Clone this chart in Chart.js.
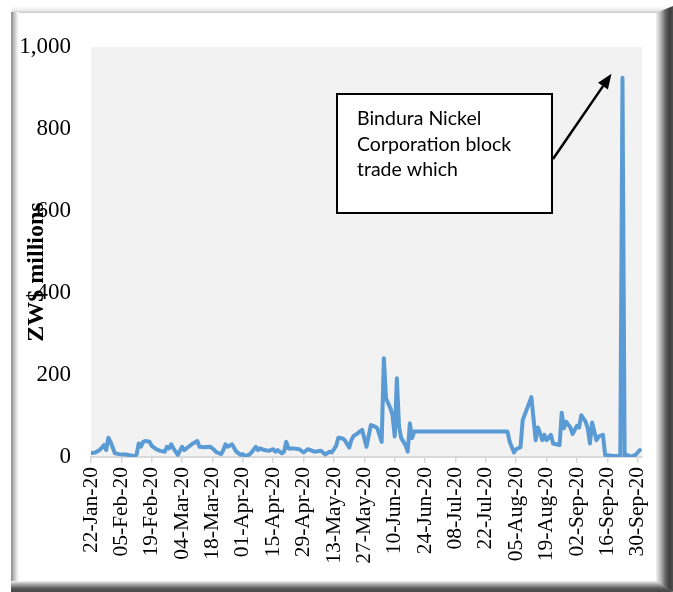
<!DOCTYPE html>
<html>
<head>
<meta charset="utf-8">
<script src="https://cdn.jsdelivr.net/npm/chart.js@4.4.1/dist/chart.umd.min.js"></script>
<style>
  html, body { margin: 0; padding: 0; background: #ffffff; }
  #wrap { width: 673px; height: 592px; position: relative; }
  canvas { display: block; }
</style>
</head>
<body>
<div id="wrap"><canvas id="turnoverChart" width="673" height="592"></canvas></div>
<script>
// Daily turnover on the exchange, ZW$ millions
const tradeDates = [
  '2020-01-22','2020-01-24','2020-01-26','2020-01-28','2020-01-29','2020-01-30','2020-01-31',
  '2020-02-02','2020-02-04','2020-02-07','2020-02-11','2020-02-12','2020-02-13','2020-02-14',
  '2020-02-15','2020-02-16','2020-02-18','2020-02-19','2020-02-21','2020-02-23','2020-02-25',
  '2020-02-26','2020-02-27','2020-02-28','2020-02-29',
  '2020-03-02','2020-03-04','2020-03-05','2020-03-07','2020-03-09','2020-03-11','2020-03-12',
  '2020-03-14','2020-03-17','2020-03-18','2020-03-20','2020-03-22','2020-03-23','2020-03-24',
  '2020-03-25','2020-03-27','2020-03-29','2020-03-31',
  '2020-04-01','2020-04-02','2020-04-04','2020-04-05','2020-04-07','2020-04-08','2020-04-09',
  '2020-04-11','2020-04-13','2020-04-15','2020-04-16','2020-04-17','2020-04-19','2020-04-20',
  '2020-04-21','2020-04-22','2020-04-24','2020-04-27','2020-04-29',
  '2020-05-01','2020-05-04','2020-05-07','2020-05-09','2020-05-11','2020-05-12','2020-05-14',
  '2020-05-15','2020-05-17','2020-05-18','2020-05-20','2020-05-21','2020-05-22','2020-05-24',
  '2020-05-26','2020-05-28','2020-05-30',
  '2020-06-01','2020-06-02','2020-06-04','2020-06-05','2020-06-06','2020-06-08','2020-06-09',
  '2020-06-10','2020-06-11','2020-06-12','2020-06-13','2020-06-15','2020-06-16','2020-06-17',
  '2020-06-18','2020-06-19',
  '2020-08-01','2020-08-02','2020-08-04','2020-08-05','2020-08-07','2020-08-08','2020-08-12',
  '2020-08-14','2020-08-15','2020-08-16','2020-08-17','2020-08-18','2020-08-19','2020-08-21',
  '2020-08-22','2020-08-25','2020-08-26','2020-08-27','2020-08-28','2020-08-30','2020-08-31',
  '2020-09-02','2020-09-03','2020-09-04','2020-09-06','2020-09-07','2020-09-08','2020-09-09',
  '2020-09-11','2020-09-12','2020-09-14','2020-09-15','2020-09-18','2020-09-22','2020-09-23',
  '2020-09-24','2020-09-25','2020-09-27','2020-09-29','2020-10-01'
];

const turnover = [
  10, 11, 17, 29, 17, 47, 37,
  9, 7, 6, 2, 6, 33, 25,
  37, 39, 37, 27, 19, 15, 13,
  25, 21, 31, 21,
  5, 25, 17, 25, 33, 39, 25,
  24, 25, 21, 11, 7, 17, 31,
  25, 31, 13, 5,
  7, 2, 6, 11, 25, 17, 21,
  17, 15, 19, 13, 17, 9, 13,
  37, 21, 21, 19, 11,
  19, 13, 15, 6, 13, 11, 27,
  47, 45, 41, 23, 41, 51, 58,
  66, 25, 78,
  74, 70, 37, 241, 143, 119, 102,
  50, 192, 74, 46, 29, 13, 82,
  46, 62,
  62, 37, 11, 19, 24, 90, 146,
  41, 72, 58, 41, 54, 41, 54,
  33, 29, 108, 70, 86, 72, 56,
  76, 72, 102, 86, 70, 33, 84,
  41, 50, 54, 5, 3, 2, 925,
  1, 5, 1, 5, 17
];

const tickLabels = [
  '22-Jan-20','05-Feb-20','19-Feb-20','04-Mar-20','18-Mar-20','01-Apr-20','15-Apr-20',
  '29-Apr-20','13-May-20','27-May-20','10-Jun-20','24-Jun-20','08-Jul-20','22-Jul-20',
  '05-Aug-20','19-Aug-20','02-Sep-20','16-Sep-20','30-Sep-20'
];

const yTickValues = [0, 200, 400, 600, 800, 1000];
const axisEndDate = '2020-10-02';
const axisTitle = 'ZW$ millions';
const noteLines = ['Bindura Nickel', 'Corporation block', 'trade which'];
const blockTradeDate = '2020-09-23';

// ---- helpers: dates become day offsets from the first trading day ----
const DAY = 86400000;
const origin = Date.UTC(2020, 0, 22);
const monthIdx = { Jan:0, Feb:1, Mar:2, Apr:3, May:4, Jun:5, Jul:6, Aug:7, Sep:8, Oct:9, Nov:10, Dec:11 };
const dayOf = iso => (Date.parse(iso) - origin) / DAY;
const labelDay = lbl => {
  const [d, m, y] = lbl.split('-');
  return (Date.UTC(2000 + Number(y), monthIdx[m], Number(d)) - origin) / DAY;
};
const labelByDay = {};
tickLabels.forEach(l => { labelByDay[labelDay(l)] = l; });

const points = tradeDates.map((d, i) => ({ x: dayOf(d), y: turnover[i] }));
const blockIdx = tradeDates.indexOf(blockTradeDate);

const serif = "'Liberation Serif', 'Times New Roman', serif";

// Bevelled frame around the whole figure plus the grey plot area
const framePlugin = {
  id: 'frame',
  beforeDraw(chart) {
    const { ctx, width: W, height: H, chartArea: ca } = chart;
    ctx.save();
    ctx.fillStyle = '#ffffff';
    ctx.fillRect(0, 0, W, H);

    // top edge
    let g = ctx.createLinearGradient(0, 6, 0, 13);
    g.addColorStop(0, '#ffffff');
    g.addColorStop(0.6, '#ececec');
    g.addColorStop(1, '#c9c9c9');
    ctx.fillStyle = g;
    ctx.fillRect(12, 6, W - 20, 7);

    // left edge
    g = ctx.createLinearGradient(11, 0, 19, 0);
    g.addColorStop(0, '#8a8a8a');
    g.addColorStop(0.3, '#b4b4b4');
    g.addColorStop(0.7, '#e6e6e6');
    g.addColorStop(1, '#ffffff');
    ctx.fillStyle = g;
    ctx.fillRect(11, 12, 8, H - 20);

    // bottom edge
    g = ctx.createLinearGradient(0, 581, 0, H);
    g.addColorStop(0, '#f2f2f2');
    g.addColorStop(0.35, '#9c9c9c');
    g.addColorStop(0.7, '#555555');
    g.addColorStop(1, '#474747');
    ctx.fillStyle = g;
    ctx.beginPath();
    ctx.moveTo(11, 581); ctx.lineTo(W - 16, 581); ctx.lineTo(W, H); ctx.lineTo(11, H);
    ctx.closePath(); ctx.fill();

    // right edge
    g = ctx.createLinearGradient(656, 0, W, 0);
    g.addColorStop(0, '#f2f2f2');
    g.addColorStop(0.3, '#b0b0b0');
    g.addColorStop(0.55, '#666666');
    g.addColorStop(0.8, '#3e3e3e');
    g.addColorStop(1, '#4e4e4e');
    ctx.fillStyle = g;
    ctx.beginPath();
    ctx.moveTo(656, 13); ctx.lineTo(W, 6); ctx.lineTo(W, H); ctx.lineTo(656, 581);
    ctx.closePath(); ctx.fill();

    // plot area
    ctx.fillStyle = '#F2F2F2';
    ctx.fillRect(ca.left, ca.top, ca.right - ca.left, ca.bottom - ca.top);
    ctx.restore();
  }
};

// Axis title and the block-trade call-out
const notesPlugin = {
  id: 'notes',
  afterDraw(chart) {
    const { ctx, chartArea: ca, scales: { x, y } } = chart;
    ctx.save();

    // y axis title
    ctx.translate(ca.left - 54, ca.top + 225);
    ctx.rotate(-Math.PI / 2);
    ctx.font = `bold 24px ${serif}`;
    ctx.fillStyle = '#000000';
    ctx.textAlign = 'center';
    ctx.textBaseline = 'middle';
    ctx.fillText(axisTitle, 0, 0);
    ctx.restore();

    // call-out box
    ctx.save();
    const bx = ca.left + 246, by = ca.top + 47, bw = 215, bh = 119;
    ctx.fillStyle = '#ffffff';
    ctx.fillRect(bx, by, bw, bh);
    ctx.strokeStyle = '#000000';
    ctx.lineWidth = 2;
    ctx.strokeRect(bx, by, bw, bh);
    ctx.fillStyle = '#000000';
    ctx.font = "19.5px Lato, 'Open Sans', sans-serif";
    ctx.textAlign = 'left';
    ctx.textBaseline = 'middle';
    noteLines.forEach((t, i) => ctx.fillText(t, bx + 20, by + 25 + i * 25.5));

    // arrow to the block trade
    const px = x.getPixelForValue(points[blockIdx].x);
    const py = y.getPixelForValue(points[blockIdx].y);
    const sx = bx + bw + 1, sy = by + 65;
    const tx = px - 11, ty = py - 4;
    const ang = Math.atan2(ty - sy, tx - sx);
    const hl = 15, hw = 6;
    const baseX = tx - hl * Math.cos(ang), baseY = ty - hl * Math.sin(ang);
    ctx.lineWidth = 2.5;
    ctx.beginPath();
    ctx.moveTo(sx, sy);
    ctx.lineTo(baseX, baseY);
    ctx.stroke();
    ctx.beginPath();
    ctx.moveTo(tx, ty);
    ctx.lineTo(baseX + hw * Math.sin(ang), baseY - hw * Math.cos(ang));
    ctx.lineTo(baseX - hw * Math.sin(ang), baseY + hw * Math.cos(ang));
    ctx.closePath();
    ctx.fill();
    ctx.restore();
  }
};

new Chart(document.getElementById('turnoverChart'), {
  type: 'line',
  data: {
    datasets: [{
      data: points,
      borderColor: '#5B9BD5',
      borderWidth: 4,
      borderJoinStyle: 'round',
      borderCapStyle: 'round',
      pointRadius: 0,
      tension: 0,
      fill: false
    }]
  },
  options: {
    responsive: false,
    animation: false,
    devicePixelRatio: 1,
    layout: { padding: { top: 47, right: 31, left: 0, bottom: 0 } },
    plugins: { legend: { display: false }, tooltip: { enabled: false } },
    scales: {
      x: {
        type: 'linear',
        min: 0,
        max: dayOf(axisEndDate),
        afterBuildTicks: s => { s.ticks = tickLabels.map(l => ({ value: labelDay(l) })); },
        afterFit: s => { s.height = 135; },
        ticks: {
          autoSkip: false,
          maxRotation: 90,
          minRotation: 90,
          padding: 4,
          color: '#000000',
          font: { family: serif, size: 21.5 },
          callback: v => labelByDay[v]
        },
        grid: { display: true, drawOnChartArea: false, drawTicks: true, tickLength: 6, color: '#D9D9D9', lineWidth: 1.5 },
        border: { display: true, color: '#D9D9D9', width: 2 }
      },
      y: {
        min: 0,
        max: 1000,
        afterBuildTicks: s => { s.ticks = yTickValues.map(v => ({ value: v })); },
        afterFit: s => { s.width = 91; },
        ticks: {
          padding: 20,
          color: '#000000',
          font: { family: serif, size: 23 },
          callback: v => v.toLocaleString('en-US')
        },
        grid: { display: false, drawTicks: false },
        border: { display: false }
      }
    }
  },
  plugins: [framePlugin, notesPlugin]
});
</script>
</body>
</html>
